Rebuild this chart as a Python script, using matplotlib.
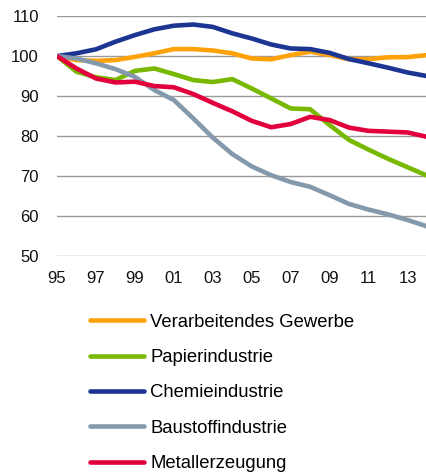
import matplotlib
matplotlib.use('Agg')
import matplotlib.pyplot as plt
import numpy as np

years = list(range(1995, 2015))
tick_years = [1995, 1997, 1999, 2001, 2003, 2005, 2007, 2009, 2011, 2013]
tick_labels = ['95', '97', '99', '01', '03', '05', '07', '09', '11', '13']

verarbeitend = [100, 99.0, 98.8, 99.0, 99.8, 100.7, 101.75, 101.75, 101.4, 100.7,
                99.4, 99.2, 100.25, 101.1, 100.25, 99.2, 99.25, 99.7, 99.75, 100.25]
papier = [100, 96.1, 94.7, 94.0, 96.3, 96.9, 95.5, 94.0, 93.5, 94.25,
          91.9, 89.4, 86.9, 86.7, 82.75, 79.0, 76.6, 74.3, 72.2, 70.1]
chemie = [100, 100.7, 101.7, 103.6, 105.25, 106.7, 107.6, 107.9, 107.3, 105.7,
          104.4, 102.9, 101.9, 101.75, 100.8, 99.25, 98.2, 97.1, 95.9, 95.0]
baustoff = [100, 99.4, 98.2, 96.75, 94.8, 91.5, 89.0, 84.4, 79.6, 75.5,
            72.4, 70.2, 68.5, 67.3, 65.2, 63.0, 61.6, 60.4, 59.0, 57.4]
metall = [100, 96.9, 94.4, 93.4, 93.6, 92.5, 92.2, 90.5, 88.3, 86.2,
          83.8, 82.2, 83.0, 84.8, 84.0, 82.1, 81.3, 81.1, 80.9, 79.8]

series = [
    ('Verarbeitendes Gewerbe', verarbeitend, '#FFA20A'),
    ('Papierindustrie', papier, '#78B800'),
    ('Chemieindustrie', chemie, '#1C3592'),
    ('Baustoffindustrie', baustoff, '#8499AC'),
    ('Metallerzeugung', metall, '#E2003C'),
]

plt.rcParams['font.family'] = ['Liberation Sans', 'DejaVu Sans']

fig = plt.figure(figsize=(4.27, 4.74), dpi=100)
ax = fig.add_axes([0.1335, 0.46, 0.8665, 0.506])

for name, vals, col in series:
    ax.plot(years, vals, color=col, linewidth=3.3, label=name,
            solid_capstyle='butt', zorder=3)

ax.set_xlim(1995, 2014)
ax.set_ylim(50, 110)
ax.set_yticks(np.arange(50, 111, 10))
ax.set_xticks(tick_years)
ax.set_xticklabels(tick_labels)
ax.yaxis.grid(True, color='#9a9a9a', linewidth=1)
ax.set_axisbelow(True)
for s in ax.spines.values():
    s.set_visible(False)
ax.tick_params(axis='both', length=0, labelsize=12, colors='#111111')
ax.tick_params(axis='y', pad=13)
ax.tick_params(axis='x', pad=11)

leg = fig.legend(loc='upper left', bbox_to_anchor=(0.189, 0.358), frameon=False,
                 fontsize=13.3, handlelength=2.95, handletextpad=0.32,
                 labelspacing=1.0, borderpad=0)
for line in leg.get_lines():
    line.set_linewidth(3.3)
    line.set_solid_capstyle('round')

fig.savefig('out.png', dpi=100)
